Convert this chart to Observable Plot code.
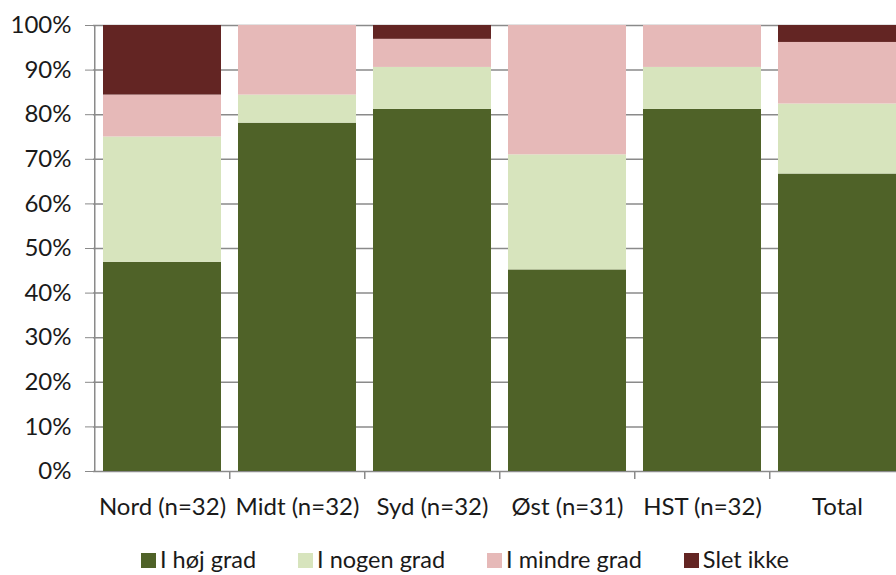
<!DOCTYPE html>
<html>
<head>
<meta charset="utf-8">
<script src="https://cdn.jsdelivr.net/npm/d3@7"></script>
<script src="https://cdn.jsdelivr.net/npm/@observablehq/plot@0.6"></script>
<style>
  html, body { margin: 0; padding: 0; background: #fff; }
  body { width: 896px; height: 575px; overflow: hidden; font-family: Lato, "Open Sans", sans-serif; color: #1a1a1a; }
  #chart svg { display: block; overflow: hidden; }
  #legend { position: relative; height: 60px; display: flex; justify-content: center; align-items: center; font-size: 23.5px; line-height: 1.1; padding-left: 34px; }
  .item { display: flex; align-items: center; margin: 0 21px; }
  .sw { width: 15px; height: 15px; margin-right: 4px; }
</style>
</head>
<body>
<div id="chart"></div>
<div id="legend"></div>
<script>
const categories = ["Nord (n=32)", "Midt (n=32)", "Syd (n=32)", "Øst (n=31)", "HST (n=32)", "Total"];
const series = ["I høj grad", "I nogen grad", "I mindre grad", "Slet ikke"];
const colors = ["#4F6228", "#D7E4BD", "#E6B9B8", "#632523"];
// percentage per series, one value per category
const hojGrad    = [46.9, 78.1, 81.2, 45.2, 81.2, 66.7];
const nogenGrad  = [28.1,  6.3,  9.4, 25.8,  9.4, 15.7];
const mindreGrad = [ 9.4, 15.6,  6.3, 29.0,  9.4, 13.8];
const sletIkke   = [15.6,  0.0,  3.1,  0.0,  0.0,  3.8];
const yTicks = [0, 10, 20, 30, 40, 50, 60, 70, 80, 90, 100];

const valueLists = [hojGrad, nogenGrad, mindreGrad, sletIkke];
const rows = [];
series.forEach((s, si) => categories.forEach((c, ci) => rows.push({category: c, series: s, value: valueLists[si][ci]})));

const step = (906 - 93) / categories.length;

const chart = Plot.plot({
  width: 896,
  height: 530,
  marginTop: 25,
  marginBottom: 59,
  marginLeft: 93,
  marginRight: -10,
  style: {fontFamily: "Lato, 'Open Sans', sans-serif", fontSize: "24px", color: "#1a1a1a", background: "#fff"},
  x: {domain: categories, paddingInner: 0.125, paddingOuter: 0.065, label: null},
  y: {domain: [0, 100], label: null},
  color: {domain: series, range: colors},
  marks: [
    Plot.ruleY(yTicks, {stroke: "#8a8a8a", strokeWidth: 1.5}),
    Plot.barY(rows, {x: "category", y: "value", fill: "series", z: "series", order: series}),
    Plot.ruleX([0], {x: () => categories[0], dx: -step / 2, y1: 0, y2: 100, stroke: "#8a8a8a", strokeWidth: 1.5}),
    Plot.ruleX(categories.slice(1), {x: d => d, dx: -step / 2, y1: 0, y2: -1.8, stroke: "#8a8a8a", strokeWidth: 1.5}),
    Plot.axisY(yTicks, {tickSize: 8, tickPadding: 14, stroke: "#8a8a8a", fill: "#1a1a1a", tickFormat: d => d + "%", label: null}),
    Plot.axisX({tickSize: 0, tickPadding: 26, fill: "#1a1a1a", label: null})
  ]
});
document.getElementById("chart").appendChild(chart);

const legend = document.getElementById("legend");
series.forEach((s, i) => {
  const it = document.createElement("div");
  it.className = "item";
  const sw = document.createElement("span");
  sw.className = "sw";
  sw.style.background = colors[i];
  const t = document.createElement("span");
  t.textContent = s;
  it.appendChild(sw); it.appendChild(t);
  legend.appendChild(it);
});
</script>
</body>
</html>
